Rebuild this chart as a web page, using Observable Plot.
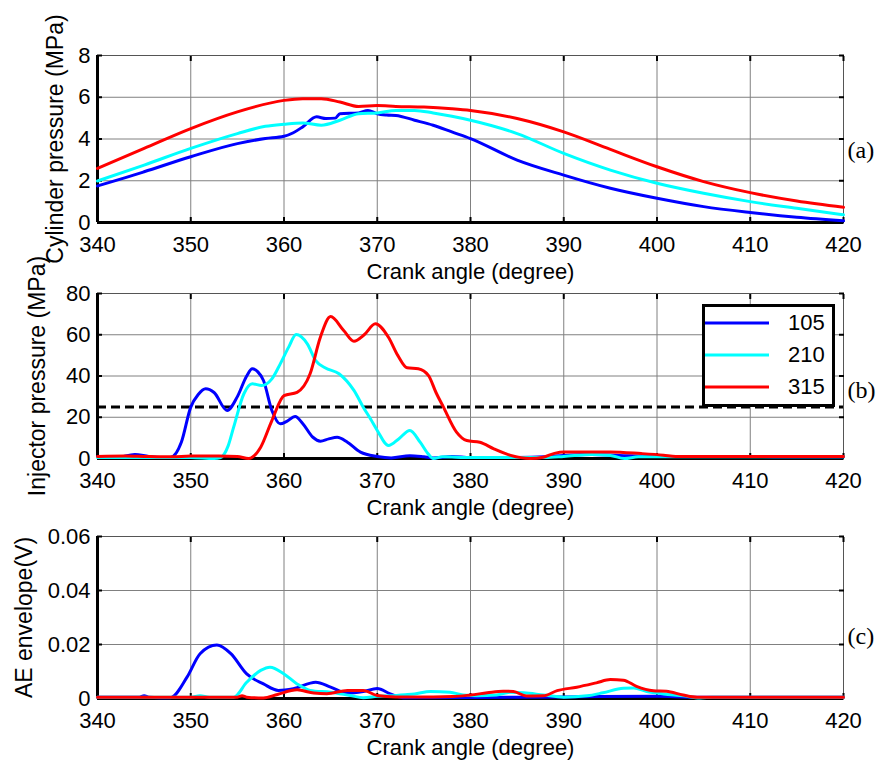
<!DOCTYPE html>
<html>
<head>
<meta charset="utf-8">
<script src="https://cdn.jsdelivr.net/npm/d3@7"></script>
<script src="https://cdn.jsdelivr.net/npm/@observablehq/plot@0.6"></script>
<style>
  body { margin: 0; background: #fff; }
  #wrap { position: relative; width: 880px; height: 764px; overflow: hidden; background: #fff;
          font-family: "Liberation Sans", Arial, sans-serif; }
  #wrap svg { position: absolute; left: 0; overflow: visible; }
  #legend { position: absolute; left: 702px; top: 304px; width: 133px; height: 103px; box-sizing: border-box;
            border: 3px solid #000; background: #fff; z-index: 10; }
  .lrow { position: absolute; left: 0; height: 26px; width: 127px; }
  .lrow svg { position: absolute; left: 9px; top: 0; overflow: visible; }
  .lrow span { position: absolute; left: 83px; top: 0; font-size: 22px; line-height: 26px; color: #000; }
</style>
</head>
<body>
<div id="wrap"><div id="legend"></div></div>
<script>
// ---------- shared ----------
const xDomain = [340, 420];
const xTicks = [340, 350, 360, 370, 380, 390, 400, 410, 420];
const xTitle = "Crank angle (degree)";
const seriesNames = ["105", "210", "315"];
const seriesColors = ["#0000ff", "#00ffff", "#ff0000"];

// ---------- (a) cylinder pressure, MPa ----------
const cylYDomain = [0, 8];
const cylYTicks = [0, 2, 4, 6, 8];
const cyl105 = [[340,1.75],[343,2.15],[345,2.43],[350,3.15],[355,3.78],[358,4.02],[360,4.13],[361,4.3],[362,4.58],[363.5,5.06],[364.5,4.98],[365.5,5.0],[366,5.21],[368,5.25],[369,5.37],[370,5.21],[371,5.15],[372,5.13],[374,4.9],[376,4.66],[378,4.34],[380,4.02],[385,2.99],[390,2.27],[395,1.64],[400,1.16],[405,0.76],[410,0.48],[415,0.25],[420,0.08]];
const cyl210 = [[340,1.99],[345,2.75],[350,3.55],[355,4.26],[358,4.61],[360,4.71],[362,4.77],[364,4.66],[366,4.9],[368,5.21],[370,5.25],[372,5.37],[374,5.37],[376,5.25],[378,5.09],[380,4.9],[385,4.26],[390,3.31],[395,2.51],[400,1.88],[405,1.4],[410,1.0],[415,0.68],[420,0.37]];
const cyl315 = [[340,2.59],[345,3.55],[350,4.5],[355,5.3],[360,5.85],[362,5.93],[364,5.93],[366,5.77],[368,5.56],[370,5.6],[372,5.56],[375,5.53],[378,5.45],[380,5.37],[385,4.98],[390,4.34],[395,3.5],[400,2.67],[405,1.96],[410,1.43],[415,1.03],[420,0.73]];

// ---------- (b) injector pressure, MPa ----------
const injYDomain = [0, 80];
const injYTicks = [0, 20, 40, 60, 80];
const injThreshold = [25];
const inj105 = [[340,1],[342,0.5],[344,2],[345.5,1],[347,0.5],[347.8,0.5],[349,8],[350,24.9],[350.8,31],[351.6,33.8],[352.5,32],[353.9,23.3],[355,30],[356,40],[356.6,43.5],[357.2,42],[357.8,37.8],[358.7,23.3],[359.6,16.8],[360.3,18],[361.2,20.4],[362,17],[363.1,10.3],[363.9,8.4],[364.8,9.5],[365.7,10.3],[366.8,7.9],[368.2,3.1],[370,1],[371.5,0.3],[373.5,1.3],[375,0.8],[376,0.3],[378,1],[380,0.5],[385,0.5],[388,0.8],[390,1.5],[393,2],[396,1.5],[400,1],[405,1],[410,1],[415,0.8],[420,0.8]];
const inj210 = [[340,0.5],[345,0.5],[350,0.5],[352.5,0],[353.2,0.5],[354,6],[354.6,15.2],[355.7,31.4],[356.6,36.2],[357.6,35.4],[358.7,38.6],[359.6,45.9],[360.5,54],[361.3,60.1],[362.5,55.6],[363.4,47.5],[364.4,44],[365.9,41.1],[367.5,33],[368.5,24.9],[369.3,19],[370,13.6],[371.2,6.3],[372.3,9.5],[373.5,13.6],[374.6,7.9],[375.5,2],[376,0],[377,0.8],[380,0.5],[385,0.5],[388,0.5],[390,1],[393,2],[395,1.5],[396.5,0],[398,0.8],[400,0.8],[420,0.8]];
const inj315 = [[340,1],[343,1.2],[345,1],[348,0.8],[350,1.2],[353,1.2],[355,1],[356.2,0],[357.5,5.5],[358.7,18.4],[360,30.5],[361.4,32.1],[362.8,41.1],[363.9,58.8],[365,68.8],[366.4,62.1],[367.5,56.9],[368.6,60],[369.8,65.3],[371.2,58.8],[372.2,50],[373.2,44],[374.4,43.5],[375.5,40.2],[376.3,32],[377.1,24.9],[378.5,12.8],[379.6,8.7],[381,7.9],[382.5,4.7],[384.3,1.5],[386.4,0],[387.8,0.6],[389,2.5],[390,3.2],[395,3.2],[398.3,2.4],[400.7,1.6],[402,1],[410,1],[420,1]];

// ---------- (c) AE envelope, V ----------
const aeYDomain = [0, 0.06];
const aeYTicks = [0, 0.02, 0.04, 0.06];
const ae105 = [[340,0.0005],[344.5,0.0005],[345,0.001],[345.5,0.0005],[347.8,0.0003],[349.6,0.0079],[351,0.0166],[352.8,0.0198],[354.3,0.0166],[356,0.0091],[357.8,0.0054],[359.4,0.003],[361,0.0036],[363.4,0.006],[365,0.0042],[366.8,0.002],[368.5,0.0026],[370,0.0037],[371.4,0.0017],[372.8,0.0003],[380,0.0004],[390,0.0006],[400,0.0008],[404,0.0005],[420,0.0005]];
const ae210 = [[340,0.0005],[350,0.0005],[351,0.001],[352,0.0005],[354.6,0.0005],[356,0.006],[357.5,0.0104],[358.5,0.0116],[360,0.0091],[361.4,0.0054],[362.8,0.003],[365,0.0023],[367.1,0.0011],[368.5,0.0003],[370,0.0008],[371.4,0.001],[373,0.0014],[374,0.0017],[375.7,0.0026],[377.8,0.0023],[379.2,0.0013],[380.7,0.001],[382.8,0.0013],[384.3,0.0023],[385.7,0.0021],[387.8,0.0013],[390,0.0005],[392.5,0.001],[394.2,0.0021],[396.4,0.0038],[397.5,0.0039],[398.9,0.0026],[400.7,0.0017],[402.8,0.001],[404.6,0.0002],[406,0.0005],[420,0.0005]];
const ae315 = [[340,0.0005],[355,0.0005],[355.5,0.001],[356,0.0005],[357.8,0.0002],[359.3,0.0015],[361.4,0.0032],[363.2,0.002],[364.6,0.0018],[366.8,0.003],[368.5,0.003],[370,0.0011],[372,0.0006],[376,0.0006],[378.1,0.0007],[380,0.0013],[381.8,0.0021],[383.5,0.0027],[384.6,0.0026],[386,0.0009],[387.8,0.001],[389.3,0.0029],[391.4,0.0042],[393.5,0.0058],[395,0.007],[396.4,0.0068],[397.8,0.0045],[399.6,0.0029],[401,0.0027],[402.8,0.0013],[404.3,0.0005],[420,0.0005]];

const fmt = d => d === 0 ? "0" : String(d);
const sans = "'Liberation Sans', Arial, sans-serif";
const serif = "'Liberation Serif', 'Times New Roman', serif";

function panel(o) {
  const marks = [
    Plot.gridX(xTicks, {stroke: "#808080", strokeOpacity: 1, strokeWidth: 1}),
    Plot.gridY(o.yTicks, {stroke: "#808080", strokeOpacity: 1, strokeWidth: 1}),
    Plot.frame({stroke: "#555", strokeWidth: 1}),
    // inward ticks on all four sides
    Plot.axisX(xTicks, {anchor: "bottom", tickSize: -5, strokeWidth: 2, tickFormat: () => "", label: null}),
    Plot.axisX(xTicks, {anchor: "top", tickSize: -5, strokeWidth: 2, tickFormat: () => "", label: null}),
    Plot.axisY(o.yTicks, {anchor: "left", tickSize: -5, strokeWidth: 2, tickFormat: () => "", label: null}),
    Plot.axisY(o.yTicks, {anchor: "right", tickSize: -5, strokeWidth: 2, tickFormat: () => "", label: null}),
    // tick labels
    Plot.axisX(xTicks, {anchor: "bottom", tickSize: 0, tickPadding: 14, tickFormat: fmt, label: null, fontSize: 22, fill: "#000"}),
    Plot.axisY(o.yTicks, {anchor: "left", tickSize: 0, tickPadding: 7, tickFormat: fmt, label: null, fontSize: 22, fill: "#000"}),
    // thick left & bottom axis lines
    Plot.ruleX([xDomain[0]], {stroke: "#000", strokeWidth: 3}),
    Plot.ruleY([o.yDomain[0]], {stroke: "#000", strokeWidth: 3}),
    // titles
    Plot.text([xTitle], {text: d => d, frameAnchor: "bottom", dy: 49, textAnchor: "middle", lineAnchor: "middle", fontSize: 22, fill: "#000"}),
    Plot.text([o.yLabel], {text: d => d, frameAnchor: "left", rotate: -90, dx: o.yLabelDx, textAnchor: "middle", lineAnchor: "middle", fontSize: 23, fill: "#000"}),
    Plot.text([o.tag], {text: d => d, frameAnchor: "right", dx: 4, dy: o.tagDy, textAnchor: "start", lineAnchor: "middle", fontSize: 24, fontFamily: serif, fill: "#000"}),
    ...(o.extra || []),
    ...o.series.map((s, i) => Plot.line(s, {x: d => d[0], y: d => d[1], stroke: seriesColors[i], strokeWidth: 3, curve: "monotone-x"}))
  ];
  const svg = Plot.plot({
    width: 880, height: o.height,
    marginLeft: 97, marginRight: 37, marginTop: o.marginTop, marginBottom: o.marginBottom,
    x: {domain: xDomain},
    y: {domain: o.yDomain},
    style: {fontFamily: sans, fontSize: "22px", background: "transparent", overflow: "visible"},
    marks
  });
  svg.style.top = o.top + "px";
  return svg;
}

const wrap = document.getElementById("wrap");
const legend = document.getElementById("legend");

wrap.insertBefore(panel({
  top: 0, height: 280, marginTop: 55, marginBottom: 58,
  yDomain: cylYDomain, yTicks: cylYTicks, yLabel: "Cylinder pressure (MPa)", yLabelDx: -42,
  tag: "(a)", tagDy: 11, series: [cyl105, cyl210, cyl315]
}), legend);

wrap.insertBefore(panel({
  top: 280, height: 240, marginTop: 13, marginBottom: 62,
  yDomain: injYDomain, yTicks: injYTicks, yLabel: "Injector pressure (MPa)", yLabelDx: -60,
  tag: "(b)", tagDy: 14, series: [inj105, inj210, inj315],
  extra: [Plot.ruleY(injThreshold, {stroke: "#000", strokeWidth: 3, strokeDasharray: "9,5"})]
}), legend);

wrap.insertBefore(panel({
  top: 520, height: 244, marginTop: 16, marginBottom: 66,
  yDomain: aeYDomain, yTicks: aeYTicks, yLabel: "AE envelope(V)", yLabelDx: -73,
  tag: "(c)", tagDy: 19, series: [ae105, ae210, ae315]
}), legend);

// legend
seriesNames.forEach((name, i) => {
  const row = document.createElement("div");
  row.className = "lrow";
  row.style.top = (3 + i * 32) + "px";
  row.innerHTML = `<svg width="64" height="26"><line x1="0" x2="64" y1="13" y2="13" stroke="${seriesColors[i]}" stroke-width="3"/></svg><span>${name}</span>`;
  legend.appendChild(row);
});
</script>
</body>
</html>
